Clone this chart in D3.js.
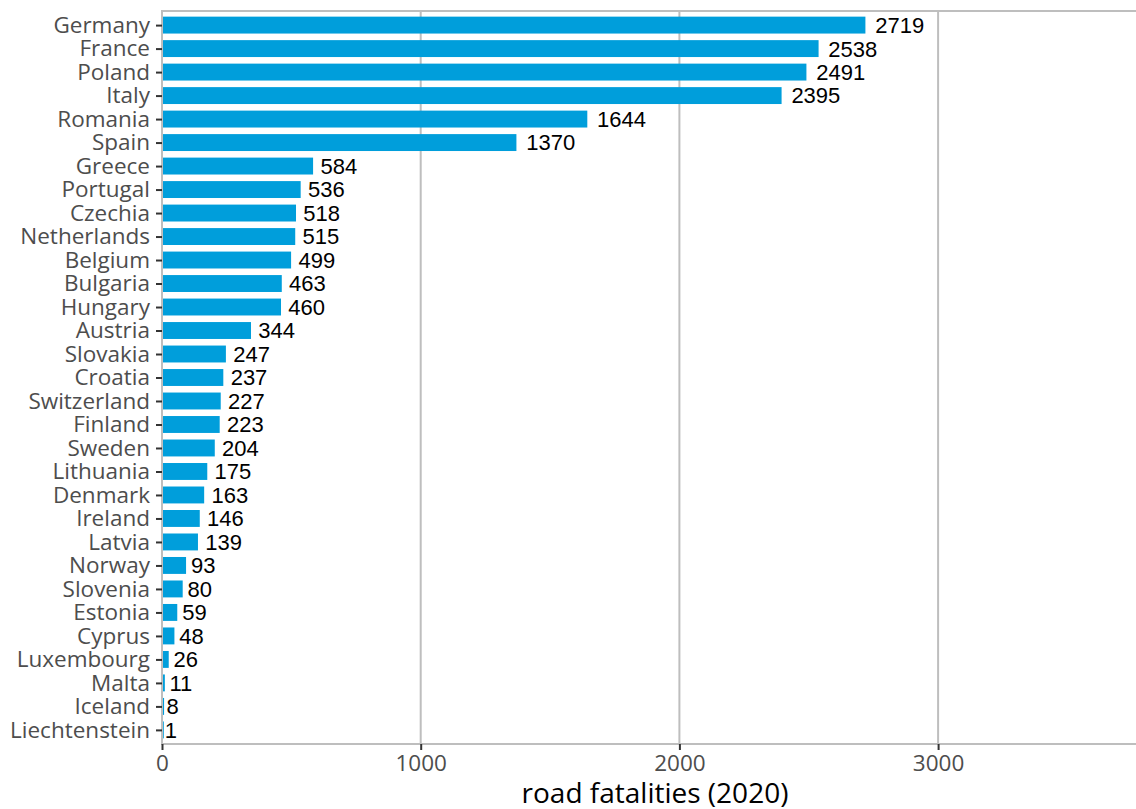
<!DOCTYPE html>
<html>
<head>
<meta charset="utf-8">
<script src="https://cdn.jsdelivr.net/npm/d3@7"></script>
<style>
  body { margin: 0; background: #fff; }
</style>
</head>
<body>
<div class="chart"></div>
<script>
const countries = ["Germany", "France", "Poland", "Italy", "Romania", "Spain", "Greece", "Portugal",
    "Czechia", "Netherlands", "Belgium", "Bulgaria", "Hungary", "Austria", "Slovakia", "Croatia",
    "Switzerland", "Finland", "Sweden", "Lithuania", "Denmark", "Ireland", "Latvia", "Norway",
    "Slovenia", "Estonia", "Cyprus", "Luxembourg", "Malta", "Iceland", "Liechtenstein"];
const fatalities = [2719, 2538, 2491, 2395, 1644, 1370, 584, 536, 518, 515, 499, 463, 460, 344,
    247, 237, 227, 223, 204, 175, 163, 146, 139, 93, 80, 59, 48, 26, 11, 8, 1];
const xTicks = [0, 1000, 2000, 3000];

const width = 1136, height = 809;
const margin = { top: 11, right: -14, bottom: 65, left: 162 };
const innerW = width - margin.left - margin.right;
const innerH = height - margin.top - margin.bottom;
const gridColor = "#bebebe";

const svg = d3.select(".chart")
    .append("svg")
    .attr("width", width)
    .attr("height", height);

const g = svg.append("g")
    .attr("transform", `translate(${margin.left},${margin.top})`);

const x = d3.scaleLinear()
    .domain([0, 3800])
    .range([0, 258.7 * 3.8]);

// ggplot style discrete expansion (0.6 of a step on each side)
const step = innerH / (countries.length - 1 + 1.2);
const y = d3.scalePoint()
    .domain(countries)
    .range([0.6 * step, innerH - 0.6 * step]);
const barH = step * 0.72;

// gridlines
g.append("g")
    .selectAll("line")
    .data(xTicks)
    .enter()
    .append("line")
    .attr("x1", d => x(d))
    .attr("x2", d => x(d))
    .attr("y1", 0)
    .attr("y2", innerH)
    .attr("stroke", gridColor)
    .attr("stroke-width", 2);

// panel border
g.append("rect")
    .attr("x", 0)
    .attr("y", 0)
    .attr("width", innerW)
    .attr("height", innerH)
    .attr("fill", "none")
    .attr("stroke", gridColor)
    .attr("stroke-width", 2);

// bars
g.append("g")
    .selectAll("rect")
    .data(countries)
    .enter()
    .append("rect")
    .attr("x", x(0) + 1)
    .attr("y", d => y(d) - barH / 2)
    .attr("width", (d, i) => Math.max(x(fatalities[i]) - x(0) - 1, 0.8))
    .attr("height", barH)
    .attr("fill", "#009edb");

// value labels (hjust about -0.2, like geom_text)
g.append("g")
    .selectAll("text")
    .data(countries)
    .enter()
    .append("text")
    .text((d, i) => fatalities[i])
    .attr("y", d => y(d))
    .attr("dy", "0.36em")
    .attr("fill", "#000")
    .attr("font-family", "Liberation Sans, Arial, sans-serif")
    .attr("font-size", 22)
    .attr("x", function (d, i) {
        return x(fatalities[i]) + 0.2 * this.getComputedTextLength();
    });

// y axis
const yAxis = d3.axisLeft(y).tickSize(6).tickPadding(6);
const gy = g.append("g").call(yAxis);
gy.select(".domain").remove();
gy.selectAll(".tick line").attr("stroke", "#333").attr("stroke-width", 2);
gy.selectAll(".tick text")
    .attr("fill", "#4d4d4d")
    .attr("font-family", "Open Sans, sans-serif")
    .attr("font-size", 22.5);

// x axis
const xAxis = d3.axisBottom(x).tickValues(xTicks).tickFormat(d3.format("d")).tickSize(6).tickPadding(5);
const gx = g.append("g")
    .attr("transform", `translate(0,${innerH})`)
    .call(xAxis);
gx.select(".domain").remove();
gx.selectAll(".tick line").attr("stroke", "#333").attr("stroke-width", 2);
gx.selectAll(".tick text")
    .attr("fill", "#4d4d4d")
    .attr("font-family", "Open Sans, sans-serif")
    .attr("font-size", 22.5);

svg.append("text")
    .attr("x", 655)
    .attr("y", 803)
    .attr("text-anchor", "middle")
    .attr("fill", "#000")
    .attr("font-family", "Open Sans, sans-serif")
    .attr("font-size", 28)
    .text("road fatalities (2020)");
</script>
</body>
</html>
